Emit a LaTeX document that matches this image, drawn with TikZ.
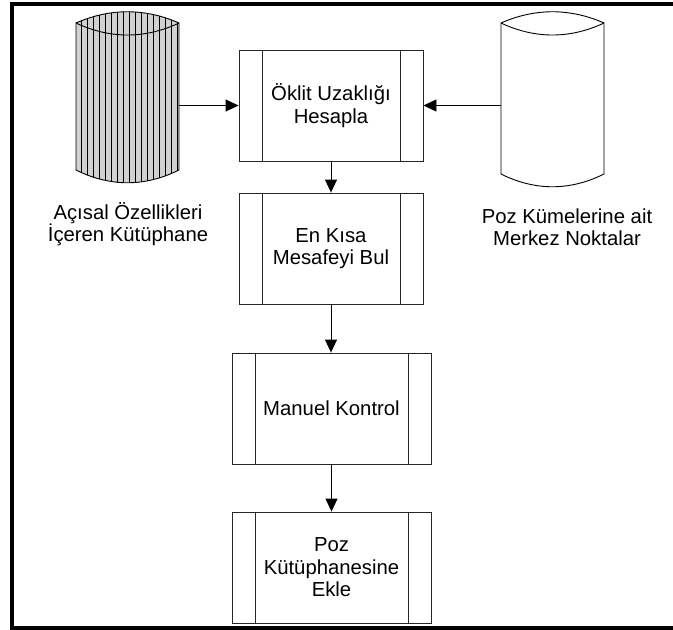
\documentclass[tikz,border=0pt]{standalone}
\usepackage{fontspec}
\setmainfont{Liberation Sans}
\usetikzlibrary{arrows.meta}

% outline of a drum (data store) around a node
\newcommand{\drumpath}[1]{(#1.north west)
  .. controls ([xshift=34pt,yshift=15pt]#1.north west) and ([xshift=-34pt,yshift=15pt]#1.north east) .. (#1.north east)
  -- (#1.south east)
  .. controls ([xshift=-34pt,yshift=-17pt]#1.south east) and ([xshift=34pt,yshift=-17pt]#1.south west) .. (#1.south west)
  -- cycle}
\newcommand{\drumlid}[1]{(#1.north west)
  .. controls ([xshift=34pt,yshift=-16pt]#1.north west) and ([xshift=-34pt,yshift=-16pt]#1.north east) .. (#1.north east)}

\begin{document}
\begin{tikzpicture}[x=1pt, y=-1pt,
  pbox/.style={draw=black!85, line width=0.9pt, fill=white, minimum width=184pt,
               minimum height=111pt, inner sep=0pt, align=center, font=\txt,
               path picture={
                 \draw[line width=0.9pt, black!85] ([xshift=23pt]path picture bounding box.north west)
                   -- ([xshift=23pt]path picture bounding box.south west);
                 \draw[line width=0.9pt, black!85] ([xshift=-23pt]path picture bounding box.north east)
                   -- ([xshift=-23pt]path picture bounding box.south east);}},
  drum/.style={minimum width=103pt, inner sep=0pt, outer sep=0pt},
  lbl/.style={align=center, font=\txt},
  arr/.style={-{Triangle[length=13pt, width=12pt]}, line width=0.9pt}
]
  \providecommand{\txt}{\fontsize{20.3}{22.5}\selectfont}
  \useasboundingbox (0,0) rectangle (673,630);

  % Outer frame
  \draw[line width=4pt] (12,4) rectangle (680,628);

  % Data stores
  \node[drum, minimum height=147pt] (aci) at (127.5,96.5) {};
  \node[drum, minimum height=151pt] (poz) at (552.5,98.5) {};

  \begin{scope}
    \clip \drumpath{aci};
    \fill[black!18] \drumpath{aci};
    \foreach \i in {0,...,16}
      \draw[line width=0.9pt] ([xshift=5.3pt+\i*6pt]aci.north west) ++(0,-20) -- ++(0,200);
  \end{scope}
  \draw[line width=0.9pt] \drumpath{aci};
  \draw[line width=0.9pt] \drumlid{aci};

  \draw[line width=0.9pt, fill=white] \drumpath{poz};
  \draw[line width=0.9pt] \drumlid{poz};

  \node[lbl] (acilbl) at (128,224) {Açısal Özellikleri\\İçeren Kütüphane};
  \node[lbl] (pozlbl) at (567,227) {Poz Kümelerine ait\\Merkez Noktalar};

  % Process steps
  \node[pbox] (oklit) at (331,105.5) {Öklit Uzaklığı\\Hesapla};
  \node[pbox] (kisa) at (331,248.5) {En Kısa\\Mesafeyi Bul};
  \node[pbox, minimum width=199pt] (manuel) at (331.5,408.5) {Manuel Kontrol};
  \node[pbox, minimum width=199pt] (ekle) at (331.5,567.5) {Poz\\Kütüphanesine\\Ekle};

  % Connectors
  \draw[arr] (aci.east |- oklit.west) -- (oklit.west);
  \draw[arr] (poz.west |- oklit.east) -- (oklit.east);
  \draw[arr] (oklit.south) -- (kisa.north);
  \draw[arr] (kisa.south) -- (kisa.south |- manuel.north);
  \draw[arr] (manuel.south) -- (ekle.north);
\end{tikzpicture}
\end{document}
